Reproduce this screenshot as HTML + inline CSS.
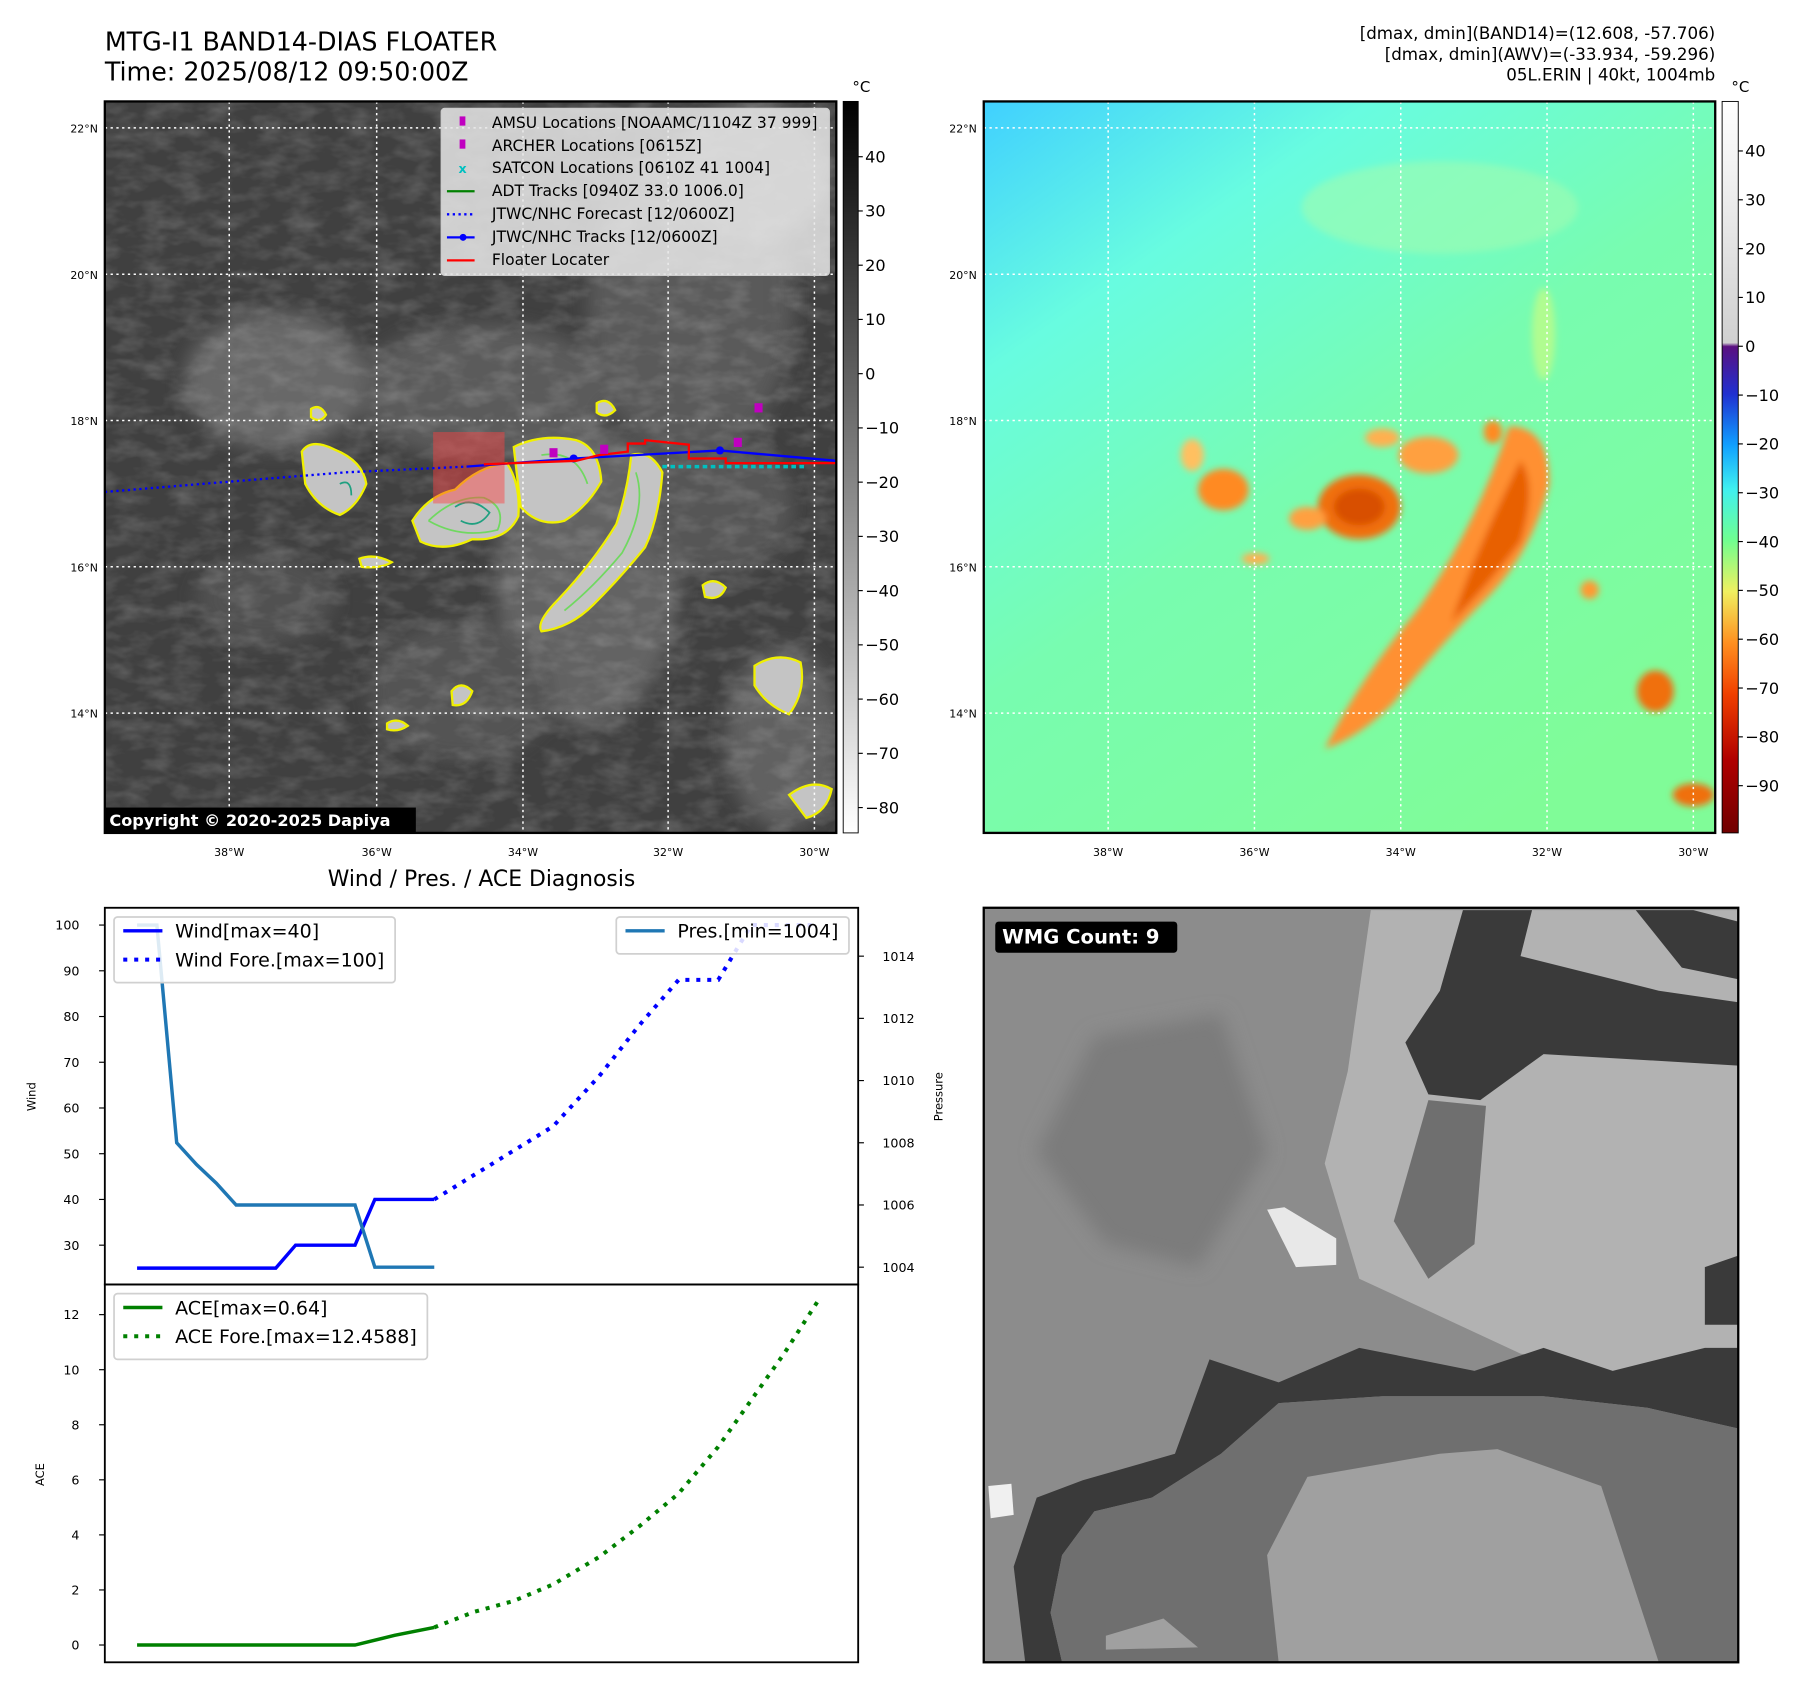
<!DOCTYPE html>
<html><head><meta charset="utf-8"><style>
html,body{margin:0;padding:0;background:#fff;}
svg{display:block;font-family:"DejaVu Sans","Liberation Sans",sans-serif;}
</style></head><body>
<svg id="root" width="1797" height="1690" viewBox="0 0 1560 1467" xmlns="http://www.w3.org/2000/svg">
<defs>
<filter id="blur6"><feGaussianBlur stdDeviation="8"/></filter>
<filter id="blur3"><feGaussianBlur stdDeviation="3"/></filter>
<filter id="tex"><feTurbulence type="fractalNoise" baseFrequency="0.04 0.08" numOctaves="3" seed="4"/><feColorMatrix type="matrix" values="0 0 0 0 0.55  0 0 0 0 0.55  0 0 0 0 0.55  0 0 0 1.4 -0.55"/></filter>
<linearGradient id="cb1" x1="0" y1="0" x2="0" y2="1"><stop offset="0" stop-color="#000"/><stop offset="1" stop-color="#fff"/></linearGradient>
<linearGradient id="cb2" x1="0" y1="0" x2="0" y2="1">
<stop offset="0" stop-color="#ffffff"/><stop offset="0.33" stop-color="#d0d0d0"/>
<stop offset="0.335" stop-color="#5a1080"/><stop offset="0.40" stop-color="#2030d0"/><stop offset="0.47" stop-color="#10a0ff"/>
<stop offset="0.53" stop-color="#40f0f0"/><stop offset="0.60" stop-color="#70ff90"/><stop offset="0.67" stop-color="#f0f060"/>
<stop offset="0.74" stop-color="#ff9020"/><stop offset="0.81" stop-color="#f04000"/><stop offset="0.90" stop-color="#b00000"/><stop offset="1" stop-color="#700000"/></linearGradient>
<linearGradient id="rmap" x1="0" y1="0" x2="0.7" y2="1"><stop offset="0" stop-color="#40d0ff"/><stop offset="0.25" stop-color="#68fce0"/><stop offset="0.55" stop-color="#78fcb0"/><stop offset="1" stop-color="#80fc98"/></linearGradient>
<clipPath id="clipL"><rect x="91" y="88" width="635" height="635"/></clipPath>
<clipPath id="clipR"><rect x="854" y="88" width="635" height="635"/></clipPath>
<clipPath id="clipB"><rect x="854" y="788" width="655" height="655"/></clipPath>
</defs>

<text x="91" y="44" font-size="22">MTG-I1 BAND14-DIAS FLOATER</text>
<text x="91" y="70" font-size="22">Time: 2025/08/12 09:50:00Z</text>
<g font-size="14.5" text-anchor="end">
<text x="1489" y="34">[dmax, dmin](BAND14)=(12.608, -57.706)</text>
<text x="1489" y="52">[dmax, dmin](AWV)=(-33.934, -59.296)</text>
<text x="1489" y="70">05L.ERIN | 40kt, 1004mb</text>
</g>

<!-- LEFT MAP -->
<g clip-path="url(#clipL)">
<rect x="91" y="88" width="635" height="635" fill="#404040"/>
<g filter="url(#blur6)" fill="#707070" opacity="0.85">
<ellipse cx="240" cy="330" rx="80" ry="60"/><ellipse cx="420" cy="340" rx="110" ry="60" fill="#606060"/>
<ellipse cx="510" cy="500" rx="80" ry="130" fill="#6a6a6a"/><ellipse cx="600" cy="260" rx="90" ry="140" fill="#5e5e5e"/>
<ellipse cx="680" cy="640" rx="50" ry="80" fill="#686868"/><ellipse cx="400" cy="600" rx="80" ry="60" fill="#585858"/>
<ellipse cx="230" cy="520" rx="60" ry="40" fill="#555"/><ellipse cx="650" cy="150" rx="70" ry="60" fill="#7a7a7a"/>
<ellipse cx="620" cy="440" rx="70" ry="60" fill="#5a5a5a"/>
</g>
<rect x="91" y="88" width="635" height="635" filter="url(#tex)" opacity="0.35"/>
<g fill="#c4c4c4" stroke="#f0f000" stroke-width="2">
<path d="M262,392 Q270,380 290,390 Q315,400 318,420 Q310,440 295,447 Q275,440 265,420 Z"/>
<path d="M358,452 Q372,430 395,425 Q415,405 440,402 Q452,420 450,448 Q440,470 410,468 Q385,480 365,470 Z"/>
<path d="M446,388 Q470,376 500,382 Q520,388 522,418 Q510,440 490,452 Q468,458 452,440 Z"/>
<path d="M548,395 Q565,390 575,410 Q572,450 560,475 Q540,500 515,525 Q495,545 470,548 Q465,540 485,520 Q515,488 535,455 Q545,425 548,395 Z"/>
<path d="M518,350 Q528,344 534,356 Q526,364 518,358 Z"/>
<path d="M610,508 Q620,500 630,510 Q625,522 612,518 Z"/>
<path d="M655,578 Q675,565 695,575 Q700,600 685,620 Q665,612 655,595 Z"/>
<path d="M685,690 Q705,675 722,685 Q718,705 700,710 Z"/>
<path d="M312,485 Q325,480 340,488 Q330,494 314,492 Z"/>
<path d="M392,600 Q400,590 410,600 Q405,614 393,612 Z"/>
<path d="M336,628 Q345,622 354,630 Q345,636 336,633 Z"/>
<path d="M270,355 Q278,350 283,360 Q278,368 270,362 Z"/>
</g>
<g stroke="#70d860" stroke-width="1.5" fill="none">
<path d="M372,452 Q395,430 420,432 Q440,440 432,460 Q400,468 372,452"/><path d="M470,395 Q500,390 510,420"/><path d="M552,410 Q562,440 540,480 Q515,510 490,530"/>
</g>
<g stroke="#20a080" stroke-width="1.5" fill="none">
<path d="M395,440 Q410,430 425,445 Q415,460 400,452"/><path d="M295,420 Q305,415 305,430"/>
</g>
<rect x="376" y="375" width="62" height="62" fill="#ff4040" opacity="0.45"/>
<g stroke="#fff" stroke-width="1.3" stroke-dasharray="2,3">
<line x1="199" y1="88" x2="199" y2="723"/><line x1="327" y1="88" x2="327" y2="723"/><line x1="454" y1="88" x2="454" y2="723"/><line x1="580" y1="88" x2="580" y2="723"/><line x1="707" y1="88" x2="707" y2="723"/>
<line x1="91" y1="111" x2="726" y2="111"/><line x1="91" y1="238" x2="726" y2="238"/><line x1="91" y1="365" x2="726" y2="365"/><line x1="91" y1="492" x2="726" y2="492"/><line x1="91" y1="619" x2="726" y2="619"/>
</g>
<polyline points="91,427 200,418 300,410 405,405" fill="none" stroke="#0000ff" stroke-width="2" stroke-dasharray="2,3"/>
<polyline points="405,405 498,398 625,391 726,400" fill="none" stroke="#0000ff" stroke-width="2"/>
<circle cx="498" cy="398" r="3.5" fill="#0000ff"/><circle cx="625" cy="391" r="3.5" fill="#0000ff"/>
<polyline points="420,403 500,400 520,395 545,392 545,385 560,385 560,382 598,386 598,398 630,398 630,402 726,402" fill="none" stroke="#ff0000" stroke-width="2"/>
<g fill="#c000c0"><rect x="655" y="350" width="7" height="8"/><rect x="637" y="380" width="7" height="8"/><rect x="477" y="389" width="7" height="8"/><rect x="521" y="386" width="7" height="8"/></g>
<line x1="575" y1="405" x2="700" y2="405" stroke="#00c0c0" stroke-width="3" stroke-dasharray="4,3"/>
<rect x="91" y="701" width="270" height="22" fill="#000"/>
<text x="95" y="717" fill="#fff" font-size="14" font-weight="bold">Copyright © 2020-2025 Dapiya</text>
</g>
<rect x="91" y="88" width="635" height="635" fill="none" stroke="#000" stroke-width="2"/>
<g font-size="13.5">
<rect x="383" y="94" width="337" height="145" rx="3" fill="#e8e8e8" fill-opacity="0.85" stroke="#ccc"/>
<rect x="399" y="101" width="5" height="8" fill="#c000c0"/><text x="427" y="111">AMSU Locations [NOAAMC/1104Z 37 999]</text>
<rect x="399" y="121" width="5" height="8" fill="#c000c0"/><text x="427" y="131">ARCHER Locations [0615Z]</text>
<text x="398" y="150" fill="#00c0c0" font-size="11" font-weight="bold">x</text><text x="427" y="150">SATCON Locations [0610Z 41 1004]</text>
<line x1="388" y1="166" x2="412" y2="166" stroke="#008000" stroke-width="2"/><text x="427" y="170">ADT Tracks [0940Z 33.0 1006.0]</text>
<line x1="388" y1="186" x2="412" y2="186" stroke="#0000ff" stroke-width="2" stroke-dasharray="2,3"/><text x="427" y="190">JTWC/NHC Forecast [12/0600Z]</text>
<line x1="388" y1="206" x2="412" y2="206" stroke="#0000ff" stroke-width="2"/><circle cx="402" cy="206" r="3" fill="#0000ff"/><text x="427" y="210">JTWC/NHC Tracks [12/0600Z]</text>
<line x1="388" y1="226" x2="412" y2="226" stroke="#ff0000" stroke-width="2"/><text x="427" y="230">Floater Locater</text>
</g>
<g font-size="9.5">
<g text-anchor="middle"><text x="199" y="743">38°W</text><text x="327" y="743">36°W</text><text x="454" y="743">34°W</text><text x="580" y="743">32°W</text><text x="707" y="743">30°W</text></g>
<g text-anchor="end"><text x="85" y="115">22°N</text><text x="85" y="242">20°N</text><text x="85" y="369">18°N</text><text x="85" y="496">16°N</text><text x="85" y="623">14°N</text></g>
</g>
<g>
<rect x="732" y="88" width="13" height="635" fill="url(#cb1)" stroke="#000" stroke-width="0.8"/>
<text x="740" y="80" font-size="13">°C</text>
<g font-size="14" id="cb1ticks"></g>
</g>

<!-- RIGHT MAP -->
<g clip-path="url(#clipR)">
<rect x="854" y="88" width="635" height="635" fill="url(#rmap)"/>
<g filter="url(#blur3)">
<path d="M1310,370 Q1345,370 1345,420 Q1330,480 1290,520 Q1250,560 1210,610 Q1180,640 1150,650 Q1180,590 1230,530 Q1280,460 1310,370 Z" fill="#ff9030"/>
<path d="M1320,400 Q1335,420 1320,470 Q1290,510 1260,540 Q1280,480 1320,400 Z" fill="#e86000"/>
<ellipse cx="1180" cy="440" rx="36" ry="28" fill="#f07010"/><ellipse cx="1180" cy="440" rx="22" ry="16" fill="#d85000"/>
<ellipse cx="1062" cy="425" rx="22" ry="18" fill="#ff8a20"/><ellipse cx="1240" cy="395" rx="26" ry="16" fill="#ffa040"/>
<ellipse cx="1135" cy="450" rx="16" ry="10" fill="#ffa040"/><ellipse cx="1437" cy="600" rx="16" ry="18" fill="#f07010"/>
<ellipse cx="1380" cy="512" rx="8" ry="8" fill="#ff9a30"/><ellipse cx="1470" cy="690" rx="18" ry="10" fill="#f07010"/>
<ellipse cx="1090" cy="485" rx="12" ry="5" fill="#ffb050"/><ellipse cx="1296" cy="375" rx="8" ry="10" fill="#ff8a20"/>
<ellipse cx="1035" cy="395" rx="10" ry="14" fill="#ffc060"/><ellipse cx="1200" cy="380" rx="15" ry="8" fill="#ffb050"/>
<ellipse cx="1340" cy="290" rx="10" ry="40" fill="#b0fc90"/><ellipse cx="1250" cy="180" rx="120" ry="40" fill="#a0fcb0" opacity="0.6"/>
</g>
<g stroke="#fff" stroke-width="1.3" stroke-dasharray="2,3">
<line x1="962" y1="88" x2="962" y2="723"/><line x1="1089" y1="88" x2="1089" y2="723"/><line x1="1216" y1="88" x2="1216" y2="723"/><line x1="1343" y1="88" x2="1343" y2="723"/><line x1="1470" y1="88" x2="1470" y2="723"/>
<line x1="854" y1="111" x2="1489" y2="111"/><line x1="854" y1="238" x2="1489" y2="238"/><line x1="854" y1="365" x2="1489" y2="365"/><line x1="854" y1="492" x2="1489" y2="492"/><line x1="854" y1="619" x2="1489" y2="619"/>
</g>
</g>
<rect x="854" y="88" width="635" height="635" fill="none" stroke="#000" stroke-width="2"/>
<g font-size="9.5">
<g text-anchor="middle"><text x="962" y="743">38°W</text><text x="1089" y="743">36°W</text><text x="1216" y="743">34°W</text><text x="1343" y="743">32°W</text><text x="1470" y="743">30°W</text></g>
<g text-anchor="end"><text x="848" y="115">22°N</text><text x="848" y="242">20°N</text><text x="848" y="369">18°N</text><text x="848" y="496">16°N</text><text x="848" y="623">14°N</text></g>
</g>
<g>
<rect x="1495" y="88" width="14" height="635" fill="url(#cb2)" stroke="#000" stroke-width="0.8"/>
<text x="1503" y="80" font-size="13">°C</text>
<g font-size="14" id="cb2ticks"></g>
</g>

<text x="418" y="769" font-size="19" text-anchor="middle">Wind / Pres. / ACE Diagnosis</text>
<g id="chart"></g>

<!-- BOTTOM RIGHT WMG -->
<g clip-path="url(#clipB)">
<rect x="854" y="788" width="655" height="655" fill="#8c8c8c"/>
<polygon points="950,900 1060,880 1100,1000 1040,1100 960,1080 900,1000" fill="#7c7c7c" filter="url(#blur6)"/>
<polygon points="1190,790 1509,790 1509,1200 1440,1200 1320,1175 1180,1110 1150,1010 1170,930" fill="#b2b2b2"/>
<polygon points="1270,790 1330,790 1320,830 1440,860 1509,870 1509,925 1340,915 1285,955 1240,950 1220,905 1250,860" fill="#3a3a3a"/>
<polygon points="1240,955 1290,960 1280,1080 1240,1110 1210,1060" fill="#6f6f6f"/>
<polygon points="1420,790 1470,790 1509,800 1509,850 1460,840" fill="#3a3a3a"/>
<polygon points="1050,1180 1110,1200 1180,1170 1280,1190 1340,1170 1400,1190 1480,1170 1509,1170 1509,1240 1430,1222 1340,1212 1200,1212 1110,1218 1060,1262 1000,1300 950,1312 922,1350 912,1400 922,1443 890,1443 880,1360 900,1300 940,1285 1020,1262" fill="#3a3a3a"/>
<polygon points="1060,1262 1110,1218 1200,1212 1340,1212 1430,1222 1509,1240 1509,1443 922,1443 912,1400 922,1350 950,1312 1000,1300" fill="#6f6f6f"/>
<polygon points="1135,1282 1250,1262 1300,1258 1390,1290 1440,1443 1110,1443 1100,1350" fill="#a0a0a0"/>
<polygon points="960,1420 1010,1405 1040,1430 960,1432" fill="#a0a0a0"/>
<polygon points="1100,1050 1115,1048 1160,1075 1160,1098 1125,1100" fill="#e8e8e8"/>
<polygon points="858,1290 878,1288 880,1315 860,1318" fill="#f0f0f0"/>
<polygon points="1480,1100 1509,1090 1509,1150 1480,1150" fill="#3a3a3a"/>
</g>
<rect x="854" y="788" width="655" height="655" fill="none" stroke="#000" stroke-width="2"/>
<rect x="864" y="800" width="158" height="27" rx="3" fill="#000"/>
<text x="870" y="819" fill="#fff" font-size="17" font-weight="bold">WMG Count: 9</text>
</svg>
<script>
const windHours = [0,6,12,18,24,30,36,42,48,54,60,66,72,78,84,90];
const windObs = [25,25,25,25,25,25,25,25,30,30,30,30,40,40,40,40];
const presObs = [1015,1015,1008,1007.3,1006.7,1006,1006,1006,1006,1006,1006,1006,1004,1004,1004,1004];
const foreHours = [90,126,140,152,164,176,186,206];
const windFore = [40,56,67,78,88,88,100,100];
const aceHours = [0,66,78,90];
const aceObs = [0,0,0.35,0.64];
const aceForeHours = [90,102,114,126,140,152,164,176,186,196,206];
const aceFore = [0.64,1.2,1.6,2.2,3.2,4.3,5.5,7.2,8.9,10.6,12.46];
const windTicks = [30,40,50,60,70,80,90,100];
const presTicks = [1004,1006,1008,1010,1012,1014];
const aceTicks = [0,2,4,6,8,10,12];
const cb1Ticks = [40,30,20,10,0,-10,-20,-30,-40,-50,-60,-70,-80];
const cb2Ticks = [40,30,20,10,0,-10,-20,-30,-40,-50,-60,-70,-80,-90];

const NS='http://www.w3.org/2000/svg';
function mk(tag,attrs,parent){const e=document.createElementNS(NS,tag);for(const k in attrs)e.setAttribute(k,attrs[k]);parent.appendChild(e);return e;}
const xS=h=>119+h/6*17.2;
const yW=v=>803+(100-v)*3.97;
const yP=p=>1100-(p-1004)*27;
const yA=a=>1428-a*23.9;
const chart=document.getElementById('chart');

const c1=document.getElementById('cb1ticks');
cb1Ticks.forEach(t=>{const y=136+(40-t)*(701-136)/120;
 mk('line',{x1:745,y1:y,x2:749,y2:y,stroke:'#000'},c1);
 const tx=mk('text',{x:751,y:y+5},c1);tx.textContent=(t<0?'\u2212':'')+Math.abs(t);
 
 });
const c2=document.getElementById('cb2ticks');
cb2Ticks.forEach(t=>{const y=131+(40-t)*(682-131)/130;
 mk('line',{x1:1509,y1:y,x2:1513,y2:y,stroke:'#000'},c2);
 const tx=mk('text',{x:1515,y:y+5},c2);tx.textContent=(t<0?'\u2212':'')+Math.abs(t);
 
 });

const f1=mk('rect',{x:91,y:788,width:654,height:327,fill:'none',stroke:'#000','stroke-width':1.6},chart);


const f2=mk('rect',{x:91,y:1115,width:654,height:328,fill:'none',stroke:'#000','stroke-width':1.6},chart);



windTicks.forEach(t=>{const y=yW(t);mk('line',{x1:86,y1:y,x2:91,y2:y,stroke:'#000'},chart);
 const tx=mk('text',{x:69,y:y+4,'font-size':11,'text-anchor':'end'},chart);tx.textContent=t;
 
 });
presTicks.forEach(t=>{const y=yP(t);mk('line',{x1:745,y1:y,x2:750,y2:y,stroke:'#000'},chart);
 const tx=mk('text',{x:766,y:y+4,'font-size':11},chart);tx.textContent=t;
 
 });
aceTicks.forEach(t=>{const y=yA(t);mk('line',{x1:86,y1:y,x2:91,y2:y,stroke:'#000'},chart);
 const tx=mk('text',{x:69,y:y+4,'font-size':11,'text-anchor':'end'},chart);tx.textContent=t;
 
 });
let l=mk('text',{x:31,y:952,'font-size':10,'text-anchor':'middle',transform:'rotate(-90 31 952)'},chart);l.textContent='Wind';


l=mk('text',{x:818,y:952,'font-size':10,'text-anchor':'middle',transform:'rotate(-90 818 952)'},chart);l.textContent='Pressure';


l=mk('text',{x:38,y:1280,'font-size':10,'text-anchor':'middle',transform:'rotate(-90 38 1280)'},chart);l.textContent='ACE';



function line(xs,ys,fx,fy,attrs,name){const pts=xs.map((h,i)=>xS(h).toFixed(1)+','+fy(ys[i]).toFixed(1)).join(' ');
 const p=mk('polyline',Object.assign({points:pts,fill:'none'},attrs),chart);
 
 }
line(windHours,windObs,xS,yW,{stroke:'#0000ff','stroke-width':3},'wind-line');
line(foreHours,windFore,xS,yW,{stroke:'#0000ff','stroke-width':3.5,'stroke-dasharray':'3.5,6'},'wind-forecast-line');
line(windHours,presObs,xS,yP,{stroke:'#1f77b4','stroke-width':3},'pressure-line');
line(aceHours,aceObs,xS,yA,{stroke:'#008000','stroke-width':3},'ace-line');
line(aceForeHours,aceFore,xS,yA,{stroke:'#008000','stroke-width':3.5,'stroke-dasharray':'3.5,6'},'ace-forecast-line');

function legend(x,y,w,rows,name){const g=mk('g',{},chart);
 
 
 mk('rect',{x:x,y:y,width:w,height:rows.length*25+7,rx:3,fill:'#fff','fill-opacity':0.85,stroke:'#d0d0d0','stroke-width':1.5},g);
 rows.forEach((r,i)=>{const yy=y+16+i*25;
  mk('line',Object.assign({x1:x+8,y1:yy-4,x2:x+42,y2:yy-4,'stroke-width':3},r.s),g);
  const t=mk('text',{x:x+53,y:yy+2,'font-size':16.5},g);t.textContent=r.t;});}
legend(99,796,244,[{t:'Wind[max=40]',s:{stroke:'#0000ff'}},{t:'Wind Fore.[max=100]',s:{stroke:'#0000ff','stroke-dasharray':'3.5,6','stroke-width':3.5}}],'wind-legend');
legend(535,796,202,[{t:'Pres.[min=1004]',s:{stroke:'#1f77b4'}}],'pressure-legend');
legend(99,1123,272,[{t:'ACE[max=0.64]',s:{stroke:'#008000'}},{t:'ACE Fore.[max=12.4588]',s:{stroke:'#008000','stroke-dasharray':'3.5,6','stroke-width':3.5}}],'ace-legend');
</script>
</body></html>
